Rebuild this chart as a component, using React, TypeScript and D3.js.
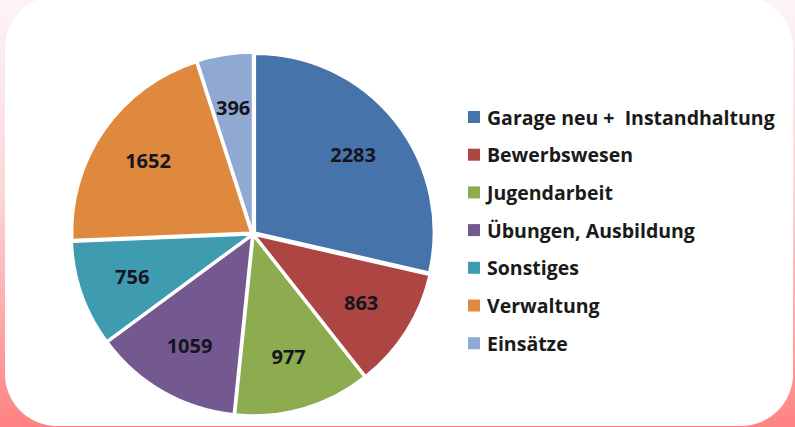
import { useMemo } from "react";
import { pie, arc, scaleOrdinal, PieArcDatum } from "d3";

const categories = [
  "Garage neu +  Instandhaltung",
  "Bewerbswesen",
  "Jugendarbeit",
  "Übungen, Ausbildung",
  "Sonstiges",
  "Verwaltung",
  "Einsätze",
];
const values = [2283, 863, 977, 1059, 756, 1652, 396];
const colors = ["#4673aa", "#ad4643", "#8dab4f", "#73598f", "#3f9bb0", "#df893f", "#8fa9d3"];

const width = 795;
const height = 427;
const cx = 253;
const cy = 234;
const radius = 178;
const labelRadius = 128;
const explode = 3;

type Row = { name: string; value: number };

const App = () => {
  const rows: Row[] = categories.map((name, i) => ({ name, value: values[i] }));
  const color = scaleOrdinal<string, string>().domain(categories).range(colors);

  const slices = useMemo(
    () =>
      pie<Row>()
        .value((d) => d.value)
        .sort(null)(rows),
    []
  );
  const sliceArc = arc<PieArcDatum<Row>>().innerRadius(0).outerRadius(radius);
  const labelArc = arc<PieArcDatum<Row>>().innerRadius(labelRadius).outerRadius(labelRadius);

  const legendX = 468;
  const legendY = 117;
  const legendStep = 37.7;

  return (
    <svg
      width={width}
      height={height}
      style={{ position: "absolute", left: 0, top: 0 }}
      fontFamily="'Open Sans', sans-serif"
    >
      <defs>
        <linearGradient id="bg" x1="0" y1="0" x2="0" y2="1">
          <stop offset="0" stopColor="#fdf4f6" />
          <stop offset="0.45" stopColor="#fbd6da" />
          <stop offset="1" stopColor="#ff8282" />
        </linearGradient>
      </defs>
      <rect width={width} height={height} fill="url(#bg)" />
      <rect x={5} y={-4} width={788} height={430} rx={52} fill="#ffffff" />

      <g transform={`translate(${cx},${cy})`}>
        {slices.map((s, i) => {
          const mid = (s.startAngle + s.endAngle) / 2;
          const dx = Math.sin(mid) * explode;
          const dy = -Math.cos(mid) * explode;
          return (
            <g key={i} transform={`translate(${dx},${dy})`}>
              <path
                d={sliceArc(s) || ""}
                fill={color(s.data.name)}
                stroke="#ffffff"
                strokeWidth={1.5}
              />
            </g>
          );
        })}
        {slices.map((s, i) => {
          const [lx, ly] = labelArc.centroid(s);
          return (
            <text
              key={i}
              x={lx}
              y={ly}
              textAnchor="middle"
              dominantBaseline="central"
              fontWeight={700}
              fontSize={20}
              fill="#15151f"
            >
              {s.data.value}
            </text>
          );
        })}
      </g>

      <g>
        {categories.map((c, i) => (
          <g key={c} transform={`translate(${legendX},${legendY + i * legendStep})`}>
            <rect x={0} y={-6} width={12} height={12} fill={color(c)} />
            <text
              x={19}
              y={0}
              dominantBaseline="central"
              fontWeight={700}
              fontSize={19.5}
              fill="#1a1a1a"
              style={{ whiteSpace: "pre" }}
            >
              {c}
            </text>
          </g>
        ))}
      </g>
    </svg>
  );
};

export default App;
